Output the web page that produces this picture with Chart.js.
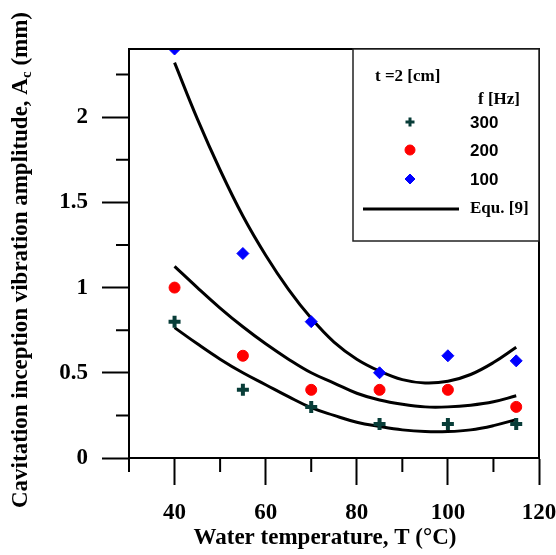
<!DOCTYPE html>
<html>
<head>
<meta charset="utf-8">
<script src="https://cdn.jsdelivr.net/npm/chart.js@4.4.1/dist/chart.umd.min.js"></script>
<style>
  html, body { margin: 0; padding: 0; background: #fff; }
  canvas { display: block; }
</style>
</head>
<body>
<canvas id="ampChart" width="556" height="555"></canvas>
<script>
// measured points
const temps = [40, 55, 70, 85, 100, 115];
const amp300 = [0.8, 0.4, 0.3, 0.2, 0.2, 0.2];
const amp200 = [1.0, 0.6, 0.4, 0.4, 0.4, 0.3];
const amp100 = [2.4, 1.2, 0.8, 0.5, 0.6, 0.57];

// Equ. [9] curves
const fitT = [40, 45, 50, 55, 60, 65, 70, 75, 80, 85, 90, 95, 100, 105, 110, 115];
const fit300 = [0.765, 0.67, 0.58, 0.5, 0.43, 0.36, 0.295, 0.25, 0.21, 0.185, 0.165, 0.155, 0.155, 0.165, 0.19, 0.225];
const fit200 = [1.125, 1.0, 0.88, 0.77, 0.67, 0.58, 0.5, 0.44, 0.38, 0.34, 0.315, 0.3, 0.3, 0.31, 0.33, 0.365];
const fit100 = [2.32, 1.99, 1.69, 1.42, 1.19, 0.99, 0.82, 0.68, 0.58, 0.51, 0.46, 0.44, 0.45, 0.49, 0.56, 0.65];

// axis ticks
const xMajor = [40, 60, 80, 100, 120];
const xMinor = [30, 50, 70, 90, 110];
const yMajor = [0, 0.5, 1, 1.5, 2];
const yMinor = [0.25, 0.75, 1.25, 1.75, 2.25];

const serif = '"Liberation Serif", "Times New Roman", serif';
const sans = '"Liberation Sans", Arial, sans-serif';
const plusColor = "#083d38";

const pts = (xs, ys) => xs.map((x, i) => ({ x: x, y: ys[i] }));

const fitLine = (data) => ({
  label: "Equ. [9]",
  data: data,
  showLine: true,
  borderColor: "#000",
  borderWidth: 3,
  pointRadius: 0,
  tension: 0.4,
  fill: false,
});

// frame, minor ticks, axis titles, legend box
const extras = {
  id: "extras",
  afterDraw(chart) {
    const ctx = chart.ctx;
    const a = chart.chartArea;
    const xs = chart.scales.x;
    const ys = chart.scales.y;
    ctx.save();

    ctx.strokeStyle = "#000";
    ctx.lineWidth = 2;
    ctx.strokeRect(a.left, a.top, a.right - a.left, a.bottom - a.top);

    ctx.beginPath();
    xMinor.forEach((v) => {
      const px = xs.getPixelForValue(v);
      ctx.moveTo(px, a.bottom);
      ctx.lineTo(px, a.bottom + 14);
    });
    yMinor.forEach((v) => {
      const py = ys.getPixelForValue(v);
      ctx.moveTo(a.left, py);
      ctx.lineTo(a.left - 13, py);
    });
    ctx.stroke();

    // x title
    ctx.fillStyle = "#000";
    ctx.font = "bold 23px " + serif;
    ctx.textAlign = "center";
    ctx.textBaseline = "alphabetic";
    ctx.fillText("Water temperature, T (\u00B0C)", 325, 544);

    // y title with subscript c
    const p1 = "Cavitation inception vibration amplitude, A";
    const p2 = "c";
    const p3 = " (mm)";
    ctx.save();
    ctx.translate(27, 260);
    ctx.rotate(-Math.PI / 2);
    ctx.textAlign = "left";
    ctx.font = "bold 23px " + serif;
    const w1 = ctx.measureText(p1).width;
    const w3 = ctx.measureText(p3).width;
    ctx.font = "bold 15px " + serif;
    const w2 = ctx.measureText(p2).width;
    const start = -(w1 + w2 + w3) / 2;
    ctx.font = "bold 23px " + serif;
    ctx.fillText(p1, start, 0);
    ctx.fillText(p3, start + w1 + w2, 0);
    ctx.font = "bold 15px " + serif;
    ctx.fillText(p2, start + w1, 4);
    ctx.restore();

    // legend
    const lx = 353, ly = a.top, lw = a.right - 353, lh = 192;
    ctx.fillStyle = "#fff";
    ctx.fillRect(lx, ly, lw, lh);
    ctx.strokeStyle = "#222";
    ctx.lineWidth = 1.5;
    ctx.strokeRect(lx, ly, lw, lh);

    ctx.fillStyle = "#000";
    ctx.textAlign = "left";
    ctx.textBaseline = "middle";
    ctx.font = "bold 17px " + serif;
    ctx.fillText("t =2 [cm]", 375, 77);
    ctx.fillText("f [Hz]", 478, 100);

    const rows = [
      { label: "300", ds: chart.data.datasets[0], y: 122 },
      { label: "200", ds: chart.data.datasets[1], y: 150 },
      { label: "100", ds: chart.data.datasets[2], y: 179 },
    ];
    rows.forEach((r) => {
      ctx.save();
      ctx.fillStyle = r.ds.backgroundColor;
      ctx.strokeStyle = r.ds.borderColor;
      ctx.lineWidth = r.ds.pointStyle === "cross" ? 3 : 1;
      Chart.helpers.drawPoint(ctx, {
        pointStyle: r.ds.pointStyle,
        radius: r.ds.pointStyle === "cross" ? 4.5 : 5,
        borderWidth: ctx.lineWidth,
        rotation: 0,
      }, 410, r.y);
      ctx.restore();
      ctx.fillStyle = "#000";
      ctx.font = "bold 17px " + sans;
      ctx.fillText(r.label, 470, r.y + 1);
    });

    ctx.strokeStyle = "#000";
    ctx.lineWidth = 3;
    ctx.beginPath();
    ctx.moveTo(363, 209);
    ctx.lineTo(459, 209);
    ctx.stroke();
    ctx.font = "bold 17px " + serif;
    ctx.fillText("Equ. [9]", 470, 209);

    ctx.restore();
  },
};

const tickFont = { family: serif, size: 23, weight: "bold" };

new Chart(document.getElementById("ampChart"), {
  type: "scatter",
  data: {
    datasets: [
      {
        label: "300",
        data: pts(temps, amp300),
        pointStyle: "cross",
        pointRadius: 6,
        pointBorderWidth: 4,
        borderColor: plusColor,
        backgroundColor: plusColor,
      },
      {
        label: "200",
        data: pts(temps, amp200),
        pointStyle: "circle",
        pointRadius: 5.5,
        pointBorderWidth: 1,
        borderColor: "#ff0000",
        backgroundColor: "#ff0000",
      },
      {
        label: "100",
        data: pts(temps, amp100),
        pointStyle: "rectRot",
        pointRadius: 6,
        pointBorderWidth: 1,
        borderColor: "#0000ff",
        backgroundColor: "#0000ff",
      },
      fitLine(pts(fitT, fit300)),
      fitLine(pts(fitT, fit200)),
      fitLine(pts(fitT, fit100)),
    ],
  },
  options: {
    responsive: false,
    animation: false,
    layout: { padding: { top: 49, right: 17, left: 0, bottom: 0 } },
    plugins: {
      legend: { display: false },
      tooltip: { enabled: false },
    },
    scales: {
      x: {
        type: "linear",
        min: 30,
        max: 120,
        afterBuildTicks: (s) => { s.ticks = xMajor.map((v) => ({ value: v })); },
        afterFit: (s) => { s.height = 97; s.paddingLeft = 0; s.paddingRight = 0; },
        grid: { drawOnChartArea: false, tickLength: 27, tickWidth: 2, tickColor: "#000" },
        border: { color: "#000", width: 2 },
        ticks: { color: "#000", font: tickFont, padding: 14, maxRotation: 0, autoSkip: false },
      },
      y: {
        type: "linear",
        min: 0,
        max: 2.4,
        afterBuildTicks: (s) => { s.ticks = yMajor.map((v) => ({ value: v })); },
        afterFit: (s) => { s.width = 129; s.paddingTop = 0; s.paddingBottom = 0; },
        grid: { drawOnChartArea: false, tickLength: 27, tickWidth: 2, tickColor: "#000" },
        border: { color: "#000", width: 2 },
        ticks: { color: "#000", font: tickFont, padding: 14, autoSkip: false, callback: (v) => String(v) },
      },
    },
  },
  plugins: [extras],
});
</script>
</body>
</html>
